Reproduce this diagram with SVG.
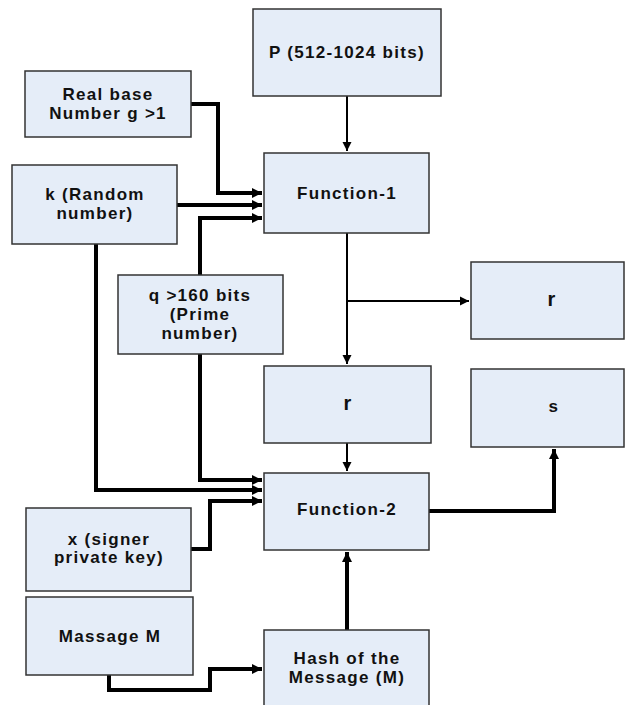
<svg xmlns="http://www.w3.org/2000/svg" width="625" height="705" viewBox="0 0 625 705">
<style>
.box{fill:#E5EDF8;stroke:#333;stroke-width:1.5}
.t{font-family:"Liberation Sans",Arial,sans-serif;font-weight:bold;font-size:17px;letter-spacing:1.3px;fill:#111;text-anchor:middle}
.big{font-size:20px}
.thick{fill:none;stroke:#000;stroke-width:4}
.thin{fill:none;stroke:#000;stroke-width:2}
</style>
<defs>
<marker id="ah" markerUnits="userSpaceOnUse" markerWidth="12" markerHeight="12" refX="10" refY="6" orient="auto">
<path d="M0,1 L10,6 L0,11 Z" fill="#000"/>
</marker>
<marker id="ahs" markerUnits="userSpaceOnUse" markerWidth="12" markerHeight="12" refX="10" refY="6" orient="auto">
<path d="M1,1.5 L10,6 L1,10.5 Z" fill="#000"/>
</marker>
</defs>
<rect width="625" height="705" fill="#fff"/>
<g id="connectors">
<path class="thin" d="M347,96 V151" marker-end="url(#ahs)"/>
<path class="thin" d="M347,233 V364" marker-end="url(#ahs)"/>
<path class="thin" d="M347,301 H469" marker-end="url(#ahs)" stroke-width="1.6"/>
<path class="thin" d="M347,443 V471" marker-end="url(#ahs)"/>
<path class="thick" d="M191,104 H218 V193 H262" marker-end="url(#ah)"/>
<path class="thick" d="M177,205 H262" marker-end="url(#ah)"/>
<path class="thick" d="M200,275 V218 H262" marker-end="url(#ah)"/>
<path class="thick" d="M96,244 V490 H262" marker-end="url(#ah)"/>
<path class="thick" d="M200,354 V480 H262" marker-end="url(#ah)"/>
<path class="thick" d="M191,549 H210 V501 H262" marker-end="url(#ah)"/>
<path class="thick" d="M109,675 V690 H210 V669 H262" marker-end="url(#ah)"/>
<path class="thick" d="M429,511 H554 V449" marker-end="url(#ah)"/>
<path class="thick" d="M347,630 V552" marker-end="url(#ah)"/>
</g>
<g id="p"><rect class="box" x="253" y="9" width="188" height="87"/><text class="t" x="347" y="58">P (512-1024 bits)</text></g>
<g id="g"><rect class="box" x="25" y="71" width="166" height="66"/><text class="t" x="108" y="100">Real base</text><text class="t" x="108" y="119">Number g &gt;1</text></g>
<g id="k"><rect class="box" x="12" y="165" width="165" height="79"/><text class="t" x="95" y="200">k (Random</text><text class="t" x="95" y="219">number)</text></g>
<g id="f1"><rect class="box" x="264" y="153" width="165" height="80"/><text class="t" x="347" y="199">Function-1</text></g>
<g id="q"><rect class="box" x="118" y="275" width="165" height="79"/><text class="t" x="200" y="301">q &gt;160 bits</text><text class="t" x="200" y="320">(Prime</text><text class="t" x="200" y="339">number)</text></g>
<g id="r1"><rect class="box" x="471" y="262" width="153" height="77"/><text class="t big" x="552" y="306">r</text></g>
<g id="r2"><rect class="box" x="264" y="366" width="167" height="77"/><text class="t big" x="348" y="410">r</text></g>
<g id="s"><rect class="box" x="471" y="369" width="153" height="78"/><text class="t" x="554" y="412">s</text></g>
<g id="f2"><rect class="box" x="264" y="473" width="165" height="77"/><text class="t" x="347" y="515">Function-2</text></g>
<g id="x"><rect class="box" x="26" y="508" width="165" height="83"/><text class="t" x="109" y="545">x (signer</text><text class="t" x="109" y="563">private key)</text></g>
<g id="m"><rect class="box" x="26" y="597" width="167" height="78"/><text class="t" x="110" y="642">Massage M</text></g>
<g id="h"><rect class="box" x="264" y="630" width="165" height="80"/><text class="t" x="347" y="664">Hash of the</text><text class="t" x="347" y="683">Message (M)</text></g>
</svg>
